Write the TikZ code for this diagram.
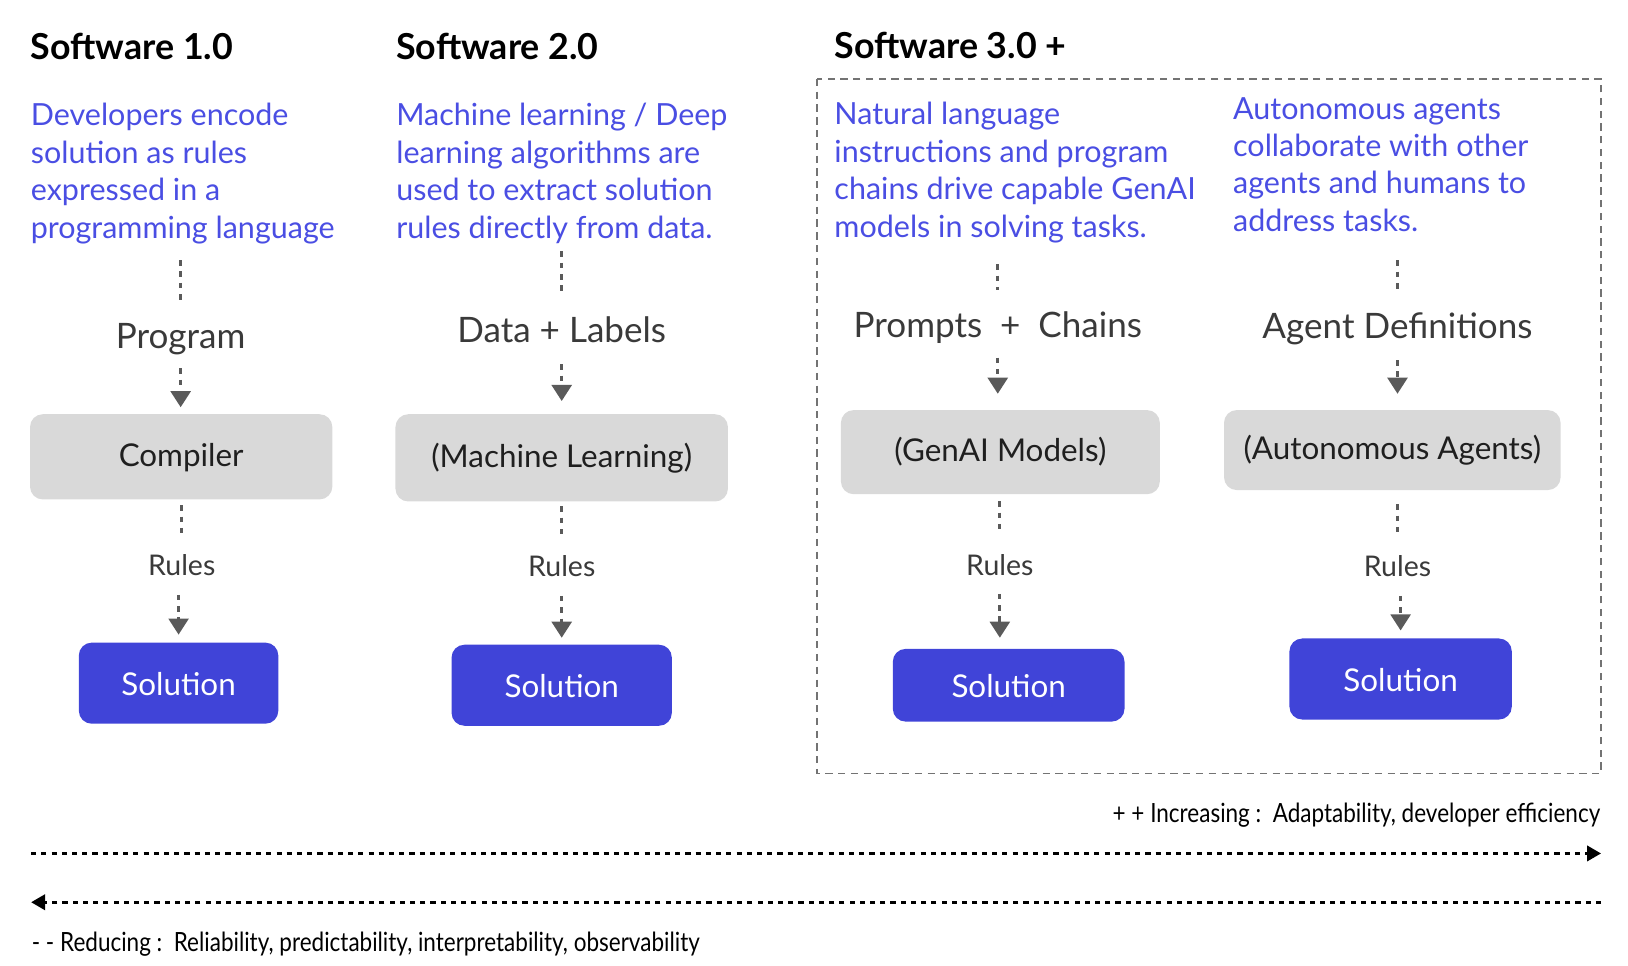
\documentclass[tikz,border=0pt]{standalone}
\usepackage{fontspec}
\setmainfont{Lato}
\newfontfamily\narrowfont[FakeStretch=0.85]{Lato}
\usetikzlibrary{positioning,arrows.meta}
\definecolor{descblue}{HTML}{4A4EE3}
\definecolor{solblue}{HTML}{4044D8}
\definecolor{boxgray}{HTML}{D9D9D9}
\definecolor{arrgray}{HTML}{5A5A5A}
\definecolor{labgray}{HTML}{3A3A3A}

\begin{document}
\begin{tikzpicture}[x=0.01cm,y=0.01cm,
	title/.style={font=\fontsize{9.8}{12}\selectfont\bfseries,anchor=base west,inner sep=0pt},
	desc/.style={font=\fontsize{8.35}{10.25}\selectfont,text=descblue,align=left,anchor=north west,inner sep=0pt},
	input/.style={font=\fontsize{9.6}{11}\selectfont,text=labgray,anchor=base,inner sep=0pt},
	rules/.style={font=\fontsize{7.8}{9}\selectfont,text=labgray,anchor=base,inner sep=0pt},
	engine/.style={fill=boxgray,rounded corners=3.5pt,font=\fontsize{8.6}{10}\selectfont,text=black!88,text height=0.72em,text depth=0.2em},
	solution/.style={fill=solblue,rounded corners=3.5pt,font=\fontsize{8.6}{10}\selectfont,text=white,text height=0.72em,text depth=0.05em},
	note/.style={font=\narrowfont\fontsize{7.25}{8}\selectfont,inner sep=0pt},
	link/.style={draw=arrgray,line width=0.9pt,dash pattern=on 1.5pt off 1.6pt},
	flow/.style={link,-{Triangle[width=5.4pt,length=4.4pt]}},
	trend/.style={line width=0.7pt,dash pattern=on 1.4pt off 1.4pt,-{Triangle[width=4.2pt,length=3.8pt]}},
	frame/.style={draw=black!55,line width=0.45pt,dash pattern=on 2pt off 1.5pt}]
	\useasboundingbox (0,0) rectangle (1568,-930.4);

	\node[title] (T1) at (29,-57)  {Software 1.0};
	\node[title] (T2) at (381,-57) {Software 2.0};
	\node[title] (T3) at (803,-56) {Software 3.0 +};

	\node[desc] (D1) at (29,-99)   {Developers encode\\solution as rules\\expressed in a\\programming language};
	\node[desc] (D2) at (381,-99)  {Machine learning / Deep\\learning algorithms are\\used to extract solution\\rules directly from data.};
	\node[desc] (D3) at (803,-98)  {Natural language\\instructions and program\\chains drive capable GenAI\\models in solving tasks.};
	\node[desc] (D4) at (1187,-93) {Autonomous agents\\collaborate with other\\agents and humans to\\address tasks.};

	\node[input] (IN1) at (174,-336)  {Program};
	\node[input] (IN2) at (541,-330)  {Data + Labels};
	\node[input] (IN3) at (961,-325)  {Prompts \ + \ Chains};
	\node[input] (IN4) at (1346,-326) {Agent Definitions};

	\node[engine,minimum width=2.91cm,minimum height=0.82cm] (M1) at (174.5,-440)  {Compiler};
	\node[engine,minimum width=3.2cm,minimum height=0.84cm]  (M2) at (541,-441)    {(Machine Learning)};
	\node[engine,minimum width=3.07cm,minimum height=0.81cm] (M3) at (963.5,-435.5) {(GenAI Models)};
	\node[engine,minimum width=3.24cm,minimum height=0.77cm] (M4) at (1341,-433.5) {(Autonomous Agents)};

	\node[rules] (R1) at (175,-554)  {Rules};
	\node[rules] (R2) at (541,-555)  {Rules};
	\node[rules] (R3) at (963,-554)  {Rules};
	\node[rules] (R4) at (1346,-555) {Rules};

	\node[solution,minimum width=1.92cm,minimum height=0.78cm] (S1) at (172,-658)    {Solution};
	\node[solution,minimum width=2.12cm,minimum height=0.78cm] (S2) at (541,-660)    {Solution};
	\node[solution,minimum width=2.23cm,minimum height=0.70cm] (S3) at (971.5,-660)  {Solution};
	\node[solution,minimum width=2.14cm,minimum height=0.78cm] (S4) at (1349,-654)   {Solution};

	% description -> input
	\draw[link,shorten <=0.15cm,shorten >=0.215cm] (D1.south -| IN1) -- (IN1.north);
	\draw[link,shorten <=0.07cm,shorten >=0.205cm] (D2.south -| IN2) -- (IN2.north);
	\draw[link,shorten <=0.2cm,shorten >=0.2cm]    (D3.south -| IN3) -- (IN3.north);
	\draw[link,shorten <=0.27cm,shorten >=0.195cm] (D4.south -| IN4) -- (IN4.north);

	% input -> engine
	\draw[flow,shorten <=0.12cm,shorten >=0.06cm] (IN1.south) -- (IN1.south |- M1.north);
	\draw[flow,shorten <=0.2cm,shorten >=0.12cm]  (IN2.south) -- (IN2.south |- M2.north);
	\draw[flow,shorten <=0.13cm,shorten >=0.15cm] (IN3.south) -- (IN3.south |- M3.north);
	\draw[flow,shorten <=0.14cm,shorten >=0.15cm] (IN4.south) -- (IN4.south |- M4.north);

	% engine -> rules
	\draw[link,shorten <=0.05cm,shorten >=0.19cm] (M1.south -| R1) -- (R1.north);
	\draw[link,shorten <=0.04cm,shorten >=0.18cm] (M2.south -| R2) -- (R2.north);
	\draw[link,shorten <=0.06cm,shorten >=0.19cm] (M3.south -| R3) -- (R3.north);
	\draw[link,shorten <=0.13cm,shorten >=0.18cm] (M4.south -| R4) -- (R4.north);

	% rules -> solution
	\draw[flow,shorten <=0.18cm,shorten >=0.07cm] (R1.south -| S1) -- (S1.north);
	\draw[flow,shorten <=0.18cm,shorten >=0.06cm] (R2.south -| S2) -- (S2.north);
	\draw[flow,shorten <=0.17cm,shorten >=0.1cm]  (R3.south) -- (R3.south |- S3.north);
	\draw[flow,shorten <=0.18cm,shorten >=0.07cm] (R4.south -| S4) -- (S4.north);

	\draw[frame] (787,-76) rectangle (1542,-745);

	\node[note,anchor=base east] (INC) at (1542,-792) {+ + Increasing :\ \ Adaptability, developer efficiency};
	\coordinate (TL) at (30,-822);
	\coordinate (TR) at (1542,-822);
	\coordinate (BL) at (30,-869);
	\coordinate (BR) at (1542,-869);
	\draw[trend] (TL) -- (TR);
	\draw[trend] (BR) -- (BL);
	\node[note,anchor=base west] (RED) at (30,-916) {- - Reducing :\ \ Reliability, predictability, interpretability, observability};
\end{tikzpicture}
\end{document}
